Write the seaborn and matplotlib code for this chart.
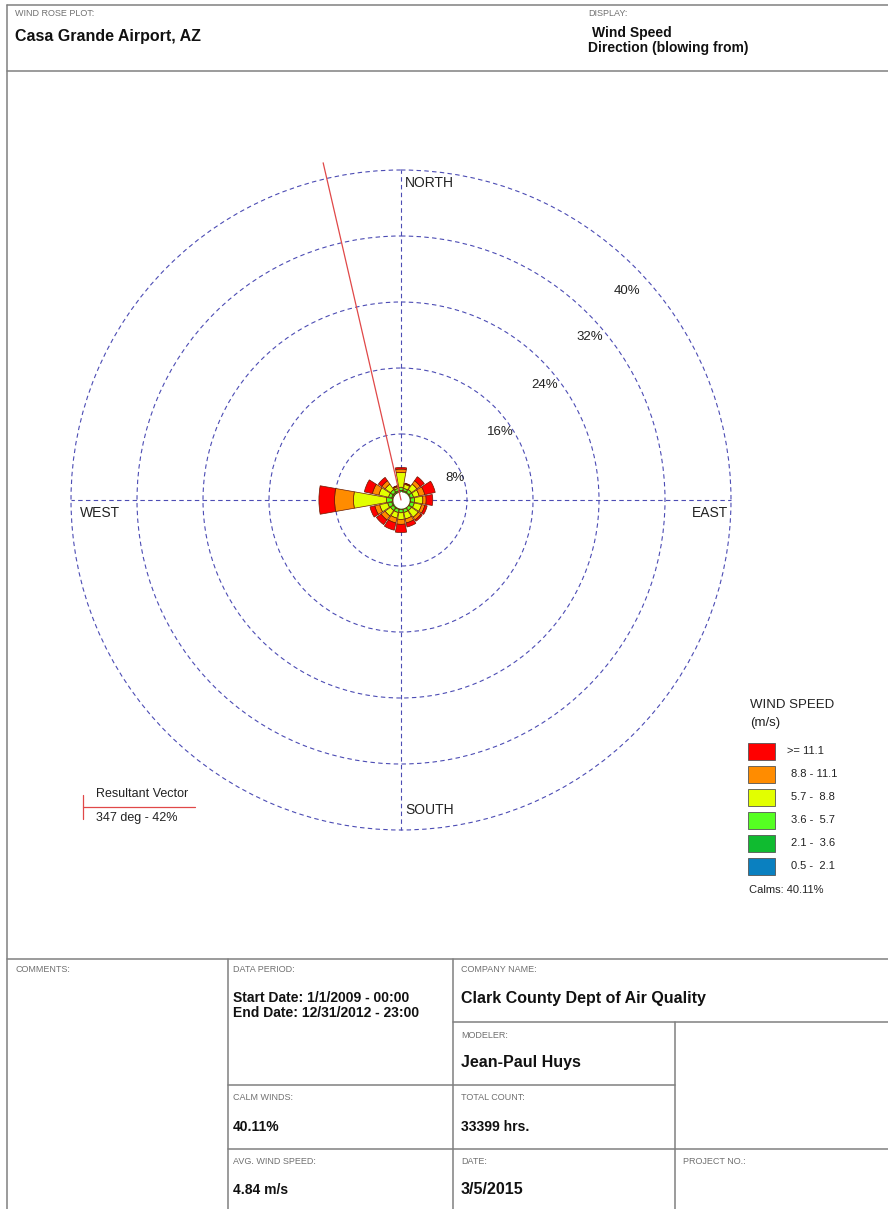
import numpy as np
import seaborn as sns
import matplotlib.pyplot as plt
from matplotlib.lines import Line2D
from matplotlib.patches import Rectangle

# wind rose frequencies (%), 16 directions, blowing from
directions = ["N", "NNE", "NE", "ENE", "E", "ESE", "SE", "SSE",
              "S", "SSW", "SW", "WSW", "W", "WNW", "NW", "NNW"]
dir_deg = [0, 22.5, 45, 67.5, 90, 112.5, 135, 157.5,
           180, 202.5, 225, 247.5, 270, 292.5, 315, 337.5]
spd_05_21 = [0.05, 0.05, 0.05, 0.05, 0.05, 0.05, 0.05, 0.05, 0.05, 0.05, 0.05, 0.05, 0.05, 0.05, 0.05, 0.05]
spd_21_36 = [0.2, 0.2, 0.2, 0.2, 0.2, 0.2, 0.2, 0.2, 0.2, 0.2, 0.2, 0.2, 0.1, 0.2, 0.2, 0.2]
spd_36_57 = [0.4, 0.3, 0.4, 0.4, 0.5, 0.5, 0.4, 0.4, 0.4, 0.4, 0.4, 0.5, 0.7, 0.4, 0.4, 0.3]
spd_57_88 = [1.8, 0.5, 0.8, 0.7, 1.0, 0.9, 1.0, 0.8, 0.8, 0.7, 0.8, 1.0, 4.0, 1.2, 0.8, 0.2]
spd_88_111 = [0.4, 0.1, 0.5, 0.7, 0.4, 0.4, 0.4, 0.5, 0.6, 0.6, 0.6, 0.6, 2.3, 0.8, 0.5, 0.1]
spd_111 = [0.2, 0.05, 0.6, 1.3, 0.8, 0.3, 0.2, 0.5, 1.0, 0.9, 0.7, 0.6, 1.9, 1.0, 0.5, 0.05]
speed_bins = [spd_05_21, spd_21_36, spd_36_57, spd_57_88, spd_88_111, spd_111]
bin_labels = ["0.5 -  2.1", "2.1 -  3.6", "3.6 -  5.7", "5.7 -  8.8", "8.8 - 11.1", ">= 11.1"]
bin_colors = ["#0a80c0", "#10bb30", "#55ff22", "#e2ff00", "#ff8c00", "#ff0000"]

rings = [8, 16, 24, 32, 40]
ring_labels = ["8%", "16%", "24%", "32%", "40%"]
ring_label_pos = [(67.8, 7.1), (55.5, 14.6), (51.4, 22.3), (49.2, 30.3), (47.2, 37.3)]
calms = 40.11
resultant_deg = 347
resultant_pct = 42

W, H = 888, 1209
sns.set_theme(style="white")
plt.rcParams["font.family"] = ["Liberation Sans", "DejaVu Sans"]

fig = plt.figure(figsize=(W / 100, H / 100), dpi=100)
fig.patch.set_facecolor("white")


def fx(x):
    return x / W


def fy(y):
    return 1 - y / H


def hline(x0, x1, y, **kw):
    fig.add_artist(Line2D([fx(x0), fx(x1)], [fy(y), fy(y)], color="#808080", lw=1.1, **kw))


def vline(x, y0, y1, **kw):
    fig.add_artist(Line2D([fx(x), fx(x)], [fy(y0), fy(y1)], color="#808080", lw=1.1, **kw))


def label(x, y, s, size=7, color="#707070", weight="normal", **kw):
    fig.text(fx(x), fy(y), s, fontsize=size, color=color, fontweight=weight,
             va="center", ha=kw.pop("ha", "left"), **kw)


# ---- polar wind rose ----
cx, cy, rpx = 401, 500, 346.5  # centre and radius of 42% in pixels
ax = fig.add_axes([fx(cx - rpx), fy(cy + rpx), 2 * rpx / W, 2 * rpx / H], projection="polar")
ax.set_theta_zero_location("N")
ax.set_theta_direction(-1)
ax.set_ylim(0, 42)
ax.spines["polar"].set_visible(False)
ax.set_facecolor("none")
ax.set_xticks([])
ax.set_yticks(rings)
ax.set_yticklabels([])
ax.xaxis.grid(False)
grid_col = "#4c4cb4"
ax.yaxis.grid(True, color=grid_col, lw=0.8, linestyle=(0, (4, 3)))

theta = np.deg2rad(dir_deg)
for t in [0, 90, 180, 270]:
    ax.plot([np.deg2rad(t)] * 2, [0, 40], color=grid_col, lw=0.8, linestyle=(0, (4, 3)))

hole = 0.9
bottom = np.full(len(directions), hole)
for vals, col in zip(speed_bins, bin_colors):
    vals = np.array(vals)
    ax.bar(theta, vals, width=np.deg2rad(20), bottom=bottom, color=col,
           edgecolor="#6a1a00", linewidth=0.5, zorder=3)
    bottom = bottom + vals

# calm circle in the middle
circ = np.linspace(0, 2 * np.pi, 100)
ax.fill_between(circ, 0, hole, color="white", zorder=3.5)

ax.plot([np.deg2rad(resultant_deg)] * 2, [0, resultant_pct], color="#e04848", lw=0.9, zorder=4)

for (ang, r), s in zip(ring_label_pos, ring_labels):
    ax.text(np.deg2rad(ang), r, s, fontsize=9.5, color="#222222", ha="center", va="center")

label(405, 183, "NORTH", size=10, color="#222222")
label(405, 810, "SOUTH", size=10, color="#222222")
label(80, 513, "WEST", size=10, color="#222222")
label(728, 513, "EAST", size=10, color="#222222", ha="right")

# resultant vector key
fig.add_artist(Line2D([fx(83), fx(195)], [fy(807), fy(807)], color="#e04848", lw=0.9))
fig.add_artist(Line2D([fx(83), fx(83)], [fy(795), fy(819)], color="#e04848", lw=0.9))
label(96, 794, "Resultant Vector", size=9, color="#222222")
label(96, 818, f"{resultant_deg} deg - {resultant_pct}%", size=9, color="#222222")

# speed legend
label(750, 705, "WIND SPEED", size=9.5, color="#222222")
label(750, 723, "(m/s)", size=9.5, color="#222222")
for i, (lab, col) in enumerate(zip(bin_labels[::-1], bin_colors[::-1])):
    yc = 751 + i * 23
    fig.add_artist(Rectangle((fx(748), fy(yc + 8.5)), 27 / W, 17 / H, facecolor=col,
                             edgecolor="#555555", lw=0.6, transform=fig.transFigure))
    label(787 if i == 0 else 791, yc, lab, size=8, color="#222222")
label(749, 890, f"Calms: {calms:.2f}%", size=8, color="#222222")

# ---- frame ----
hline(7, 888, 5)
hline(7, 888, 71)
vline(7, 5, 1209)
hline(7, 888, 959)
vline(228, 959, 1209)
vline(453, 959, 1209)
hline(453, 888, 1022)
vline(675, 1022, 1209)
hline(228, 675, 1085)
hline(228, 888, 1149)

# header
label(15, 14, "WIND ROSE PLOT:", size=6.5)
label(15, 37, "Casa Grande Airport, AZ", size=11.5, color="#111111", weight="bold")
label(588, 14, "DISPLAY:", size=6.5)
label(592, 33, "Wind Speed", size=10, color="#111111", weight="bold")
label(588, 48, "Direction (blowing from)", size=10, color="#111111", weight="bold")

# info table
label(15, 969, "COMMENTS:", size=6.5)
label(233, 969, "DATA PERIOD:", size=6.5)
label(233, 998, "Start Date: 1/1/2009 - 00:00", size=10, color="#111111", weight="bold")
label(233, 1013, "End Date: 12/31/2012 - 23:00", size=10, color="#111111", weight="bold")
label(461, 969, "COMPANY NAME:", size=6.5)
label(461, 998, "Clark County Dept of Air Quality", size=11.5, color="#111111", weight="bold")
label(461, 1035, "MODELER:", size=6.5)
label(461, 1062, "Jean-Paul Huys", size=11.5, color="#111111", weight="bold")
label(233, 1098, "CALM WINDS:", size=6.5)
label(233, 1127, f"{calms:.2f}%", size=10, color="#111111", weight="bold")
label(461, 1098, "TOTAL COUNT:", size=6.5)
label(461, 1127, "33399 hrs.", size=10, color="#111111", weight="bold")
label(233, 1161, "AVG. WIND SPEED:", size=6.5)
label(233, 1190, "4.84 m/s", size=10, color="#111111", weight="bold")
label(461, 1161, "DATE:", size=6.5)
label(461, 1190, "3/5/2015", size=11.5, color="#111111", weight="bold")
label(683, 1161, "PROJECT NO.:", size=6.5)

fig.savefig("out.png", dpi=100, facecolor="white")
